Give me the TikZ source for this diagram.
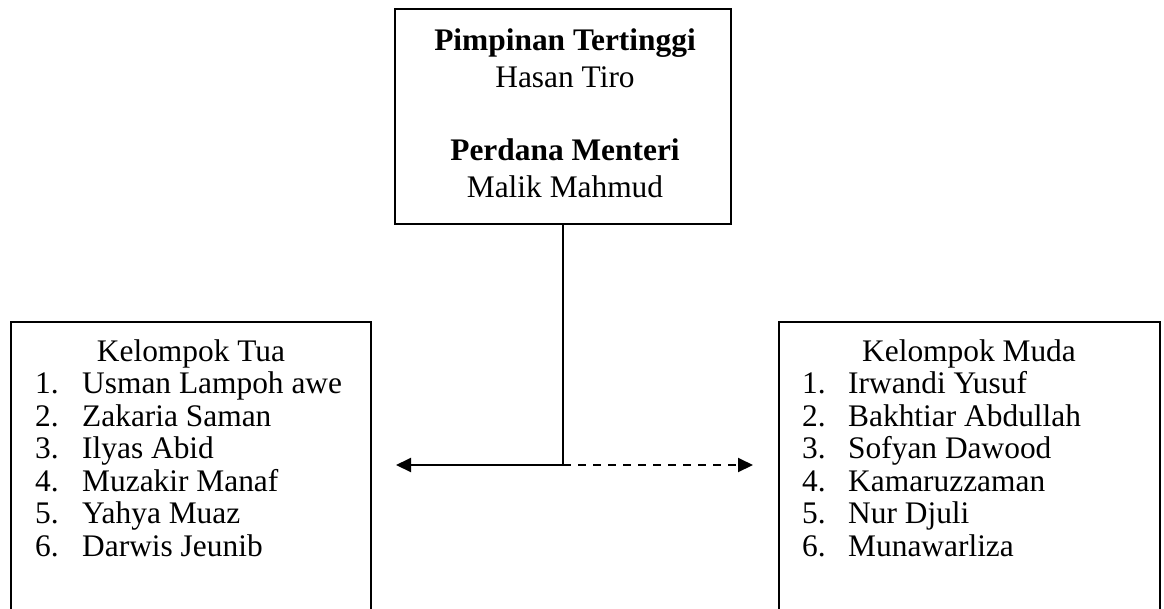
\documentclass[tikz,border=0pt]{standalone}
\usepackage{fontspec}
\setmainfont{Liberation Serif}
\usetikzlibrary{arrows.meta}
\begin{document}
\begin{tikzpicture}[x=1pt,y=-1pt,
  box/.style={draw,line width=2pt,minimum width=#1,inner sep=0pt,outer sep=0pt},
  txt/.style={inner sep=0pt,font=\fontsize{31.4}{36}\selectfont},
  btxt/.style={inner sep=0pt,font=\fontsize{31.4}{36}\selectfont\bfseries},
  conn/.style={line width=2pt},
  tip/.style={-{Triangle[length=15pt,width=14pt]}}]
\useasboundingbox (0,0) rectangle (1164,608);
% boxes
\node[box=336pt,minimum height=215pt] (top) at (563,116.5) {};
\node[box=360pt,minimum height=300pt] (left) at (191,472) {};
\node[box=381pt,minimum height=300pt] (right) at (969.5,472) {};
% top text
\node[btxt,anchor=base] (t1) at (565,50) {Pimpinan Tertinggi};
\node[txt,anchor=base] (t2) at (565,87) {Hasan Tiro};
\node[btxt,anchor=base] (t3) at (565,160) {Perdana Menteri};
\node[txt,anchor=base] (t4) at (565,197) {Malik Mahmud};
% left text
\node[txt,anchor=base] (lh) at (191,361) {Kelompok Tua};
\foreach \i/\n in {1/Usman Lampoh awe,2/Zakaria Saman,3/Ilyas Abid,4/Muzakir Manaf,5/Yahya Muaz,6/Darwis Jeunib}{
  \node[txt,anchor=base west] (ln\i) at (35,361+32.5*\i) {\i.};
  \node[txt,anchor=base west] (lt\i) at (82,361+32.5*\i) {\n};
}
% right text
\node[txt,anchor=base] (rh) at (969,361) {Kelompok Muda};
\foreach \i/\n in {1/Irwandi Yusuf,2/Bakhtiar Abdullah,3/Sofyan Dawood,4/Kamaruzzaman,5/Nur Djuli,6/Munawarliza}{
  \node[txt,anchor=base west] (rn\i) at (802,361+32.5*\i) {\i.};
  \node[txt,anchor=base west] (rt\i) at (848,361+32.5*\i) {\n};
}
% connectors
\coordinate (j) at (563,465);
\coordinate (la) at (396,465);
\coordinate (ra) at (753,465);
\draw[conn] (top.south) -- (j);
\draw[conn,tip] (j) -- (la);
\draw[conn,tip,dash pattern=on 8pt off 7pt] (j) -- (ra);
\end{tikzpicture}
\end{document}
